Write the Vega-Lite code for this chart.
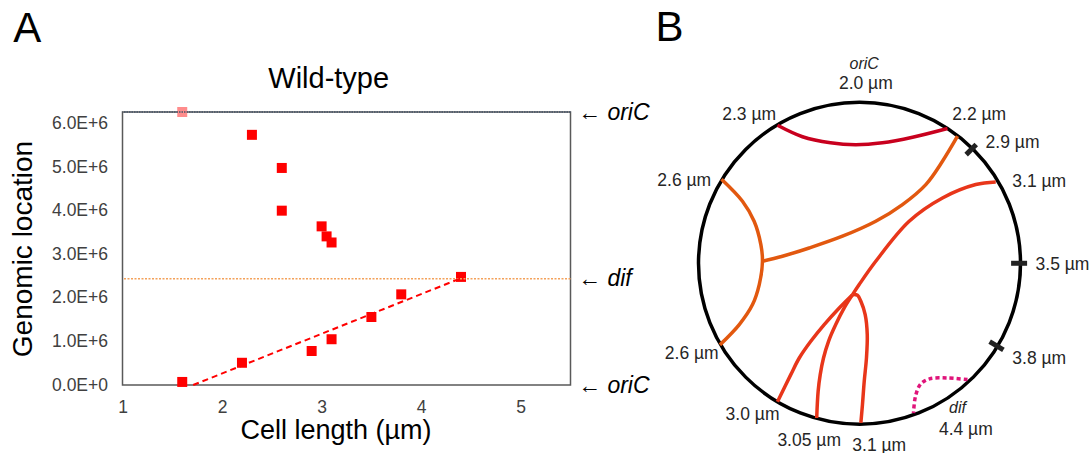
{
  "$schema": "https://vega.github.io/schema/vega-lite/v6.json",
  "background": "white",
  "padding": {"left": 8.5, "top": 6, "right": 0, "bottom": 0},
  "spacing": 5,
  "config": {"font": "Liberation Sans", "text": {"font": "Liberation Sans"}},
  "hconcat": [
    {
      "width": 448,
      "height": 273,
      "view": {"stroke": "#595959", "strokeWidth": 1.5},
      "layer": [
        {
          "data": {"values": [
            {"len": 1.6, "loc": 70000}, {"len": 2.2, "loc": 510000}, {"len": 2.3, "loc": 5740000},
            {"len": 2.6, "loc": 4980000}, {"len": 2.6, "loc": 4000000}, {"len": 2.9, "loc": 780000},
            {"len": 3.0, "loc": 3640000}, {"len": 3.05, "loc": 3410000}, {"len": 3.1, "loc": 3270000},
            {"len": 3.1, "loc": 1050000}, {"len": 3.5, "loc": 1560000}, {"len": 3.8, "loc": 2080000},
            {"len": 4.4, "loc": 2480000}
          ]},
          "mark": {"type": "point", "shape": "square", "filled": true, "size": 100, "opacity": 1, "color": "#FF0000"},
          "encoding": {
            "x": {"field": "len", "type": "quantitative", "title": "Cell length (µm)",
              "scale": {"domain": [1, 5.5], "nice": false, "zero": false},
              "axis": {"values": [1, 2, 3, 4, 5], "format": "d", "labelFlush": false, "domain": false, "ticks": false, "grid": false,
                "labelFontSize": 17.5, "labelColor": "#404040", "labelPadding": 13,
                "titleFontSize": 27, "titleFontWeight": "normal", "titleColor": "#000000", "titlePadding": 2, "titleX": 213}},
            "y": {"field": "loc", "type": "quantitative", "title": "Genomic location",
              "scale": {"domain": [0, 6264000], "nice": false, "zero": false},
              "axis": {"values": [0, 1000000, 2000000, 3000000, 4000000, 5000000, 6000000],
                "labelExpr": "replace(format(datum.value, '.1e'), 'e', 'E')",
                "domain": false, "ticks": false, "grid": false,
                "labelFontSize": 17.5, "labelColor": "#404040", "labelPadding": 15,
                "titleFontSize": 28, "titleFontWeight": "normal", "titleColor": "#000000", "titlePadding": 14}}
          }
        },
        {
          "data": {"values": [{"len": 1.6, "loc": 6264000}]},
          "mark": {"type": "point", "shape": "square", "filled": true, "size": 100, "opacity": 1, "color": "#FF8C8C"},
          "encoding": {
            "x": {"field": "len", "type": "quantitative", "scale": {"domain": [1, 5.5], "nice": false, "zero": false}},
            "y": {"field": "loc", "type": "quantitative", "scale": {"domain": [0, 6264000], "nice": false, "zero": false}, "axis": null}
          }
        },
        {
          "data": {"values": [{"site": "dif", "loc": 2440000}]},
          "mark": {"type": "rule", "strokeDash": [2, 1.5], "strokeWidth": 1.5, "color": "#F4A15A"},
          "encoding": {
            "y": {"field": "loc", "type": "quantitative", "title": null,
              "scale": {"domain": [0, 6264000], "nice": false, "zero": false},
              "axis": {"orient": "right", "values": [0, 2440000, 6264000],
                "labelExpr": "datum.value > 1000000 && datum.value < 5000000 ? '← dif' : '← oriC'",
                "domain": false, "ticks": false, "grid": false,
                "labelFontSize": 23, "labelFontStyle": "italic", "labelColor": "#000000", "labelPadding": 7}}
          }
        },
        {
          "data": {"values": [{"site": "oriC", "loc": 6264000}]},
          "mark": {"type": "rule", "strokeDash": [1.5, 1], "strokeWidth": 1.5, "color": "#44546A"},
          "encoding": {
            "y": {"field": "loc", "type": "quantitative", "scale": {"domain": [0, 6264000], "nice": false, "zero": false}, "axis": null}
          }
        },
        {
          "data": {"values": [{"len": 1.71, "loc": 0}, {"len": 4.4, "loc": 2450000}]},
          "mark": {"type": "line", "strokeDash": [6, 4], "strokeWidth": 2, "color": "#FF0000"},
          "encoding": {
            "x": {"field": "len", "type": "quantitative", "scale": {"domain": [1, 5.5], "nice": false, "zero": false}},
            "y": {"field": "loc", "type": "quantitative", "scale": {"domain": [0, 6264000], "nice": false, "zero": false}, "axis": null}
          }
        },
        {
          "data": {"values": [{"label": "A"}]},
          "mark": {"type": "text", "fontSize": 42, "align": "left", "baseline": "alphabetic", "color": "#000000"},
          "encoding": {
            "text": {"field": "label"},
            "x": {"datum": -0.098, "type": "quantitative", "scale": {"domain": [1, 5.5], "nice": false, "zero": false}},
            "y": {"datum": 7879000, "type": "quantitative", "scale": {"domain": [0, 6264000], "nice": false, "zero": false}, "axis": null}
          }
        },
        {
          "data": {"values": [{"label": "Wild-type"}]},
          "mark": {"type": "text", "fontSize": 29, "align": "center", "baseline": "alphabetic", "color": "#000000"},
          "encoding": {
            "text": {"field": "label"},
            "x": {"datum": 3.071, "type": "quantitative", "scale": {"domain": [1, 5.5], "nice": false, "zero": false}},
            "y": {"datum": 6810000, "type": "quantitative", "scale": {"domain": [0, 6264000], "nice": false, "zero": false}, "axis": null}
          }
        }
      ],
      "resolve": {"axis": {"y": "independent"}}
    },
    {
      "width": 432,
      "height": 340,
      "view": {"stroke": null},
      "encoding": {
        "x": {"field": "u", "type": "quantitative", "scale": {"domain": [-1.25, 1.45], "nice": false, "zero": false}, "axis": null},
        "y": {"field": "v", "type": "quantitative", "scale": {"domain": [-1.1795, 0.9455], "nice": false, "zero": false}, "axis": null}
      },
      "layer": [
        {
          "data": {"values": [{"u": 0.0125, "v": 0}]},
          "mark": {"type": "point", "shape": "circle", "filled": false, "size": 103684, "stroke": "#000000", "strokeWidth": 3.5, "opacity": 1}
        },
        {
          "data": {"values": [
            {"seg": "c1", "i": 0, "u": -0.5, "v": 0.8625}, {"seg": "c1", "i": 1, "u": -0.344, "v": 0.791},
            {"seg": "c1", "i": 2, "u": -0.169, "v": 0.753}, {"seg": "c1", "i": 3, "u": -0.0125, "v": 0.741},
            {"seg": "c1", "i": 4, "u": 0.156, "v": 0.753}, {"seg": "c1", "i": 5, "u": 0.344, "v": 0.7875},
            {"seg": "c1", "i": 6, "u": 0.5625, "v": 0.842},
            {"seg": "c2a", "i": 0, "u": 0.625, "v": 0.794}, {"seg": "c2a", "i": 1, "u": 0.531, "v": 0.6375},
            {"seg": "c2a", "i": 2, "u": 0.427, "v": 0.492}, {"seg": "c2a", "i": 3, "u": 0.281, "v": 0.367},
            {"seg": "c2a", "i": 4, "u": 0.114, "v": 0.2625}, {"seg": "c2a", "i": 5, "u": -0.094, "v": 0.169},
            {"seg": "c2a", "i": 6, "u": -0.302, "v": 0.0956}, {"seg": "c2a", "i": 7, "u": -0.469, "v": 0.044},
            {"seg": "c2a", "i": 8, "u": -0.594, "v": 0.0125},
            {"seg": "c2b", "i": 0, "u": -0.85, "v": 0.525}, {"seg": "c2b", "i": 1, "u": -0.719, "v": 0.3875},
            {"seg": "c2b", "i": 2, "u": -0.646, "v": 0.2625}, {"seg": "c2b", "i": 3, "u": -0.604, "v": 0.117},
            {"seg": "c2b", "i": 4, "u": -0.594, "v": 0.0125}, {"seg": "c2b", "i": 5, "u": -0.614, "v": -0.133},
            {"seg": "c2b", "i": 6, "u": -0.656, "v": -0.258}, {"seg": "c2b", "i": 7, "u": -0.739, "v": -0.383},
            {"seg": "c2b", "i": 8, "u": -0.86, "v": -0.51},
            {"seg": "c3", "i": 0, "u": 0.864, "v": 0.508}, {"seg": "c3", "i": 1, "u": 0.739, "v": 0.492},
            {"seg": "c3", "i": 2, "u": 0.531, "v": 0.408}, {"seg": "c3", "i": 3, "u": 0.323, "v": 0.2625},
            {"seg": "c3", "i": 4, "u": 0.114, "v": 0.0125},
            {"seg": "c3", "i": 5, "u": 0.0106, "v": -0.133}, {"seg": "c3", "i": 6, "u": -0.031, "v": -0.196},
            {"seg": "c4", "i": 0, "u": -0.031, "v": -0.196}, {"seg": "c4", "i": 1, "u": -0.114, "v": -0.279},
            {"seg": "c4", "i": 2, "u": -0.208, "v": -0.383}, {"seg": "c4", "i": 3, "u": -0.292, "v": -0.4875},
            {"seg": "c4", "i": 4, "u": -0.364, "v": -0.592}, {"seg": "c4", "i": 5, "u": -0.417, "v": -0.696},
            {"seg": "c4", "i": 6, "u": -0.5, "v": -0.866},
            {"seg": "c5", "i": 0, "u": -0.031, "v": -0.196}, {"seg": "c5", "i": 1, "u": -0.083, "v": -0.279},
            {"seg": "c5", "i": 2, "u": -0.136, "v": -0.383}, {"seg": "c5", "i": 3, "u": -0.181, "v": -0.4875},
            {"seg": "c5", "i": 4, "u": -0.2125, "v": -0.592}, {"seg": "c5", "i": 5, "u": -0.233, "v": -0.696},
            {"seg": "c5", "i": 6, "u": -0.246, "v": -0.8}, {"seg": "c5", "i": 7, "u": -0.255, "v": -0.967},
            {"seg": "c6", "i": 0, "u": -0.031, "v": -0.196}, {"seg": "c6", "i": 1, "u": 0.0, "v": -0.2},
            {"seg": "c6", "i": 2, "u": 0.021, "v": -0.2375}, {"seg": "c6", "i": 3, "u": 0.048, "v": -0.321},
            {"seg": "c6", "i": 4, "u": 0.061, "v": -0.446}, {"seg": "c6", "i": 5, "u": 0.056, "v": -0.592},
            {"seg": "c6", "i": 6, "u": 0.042, "v": -0.7375}, {"seg": "c6", "i": 7, "u": 0.031, "v": -0.883},
            {"seg": "c6", "i": 8, "u": 0.021, "v": -0.998}
          ]},
          "mark": {"type": "line", "strokeWidth": 3.5, "interpolate": "catmull-rom", "strokeCap": "butt"},
          "encoding": {
            "detail": {"field": "seg"},
            "order": {"field": "i", "type": "quantitative"},
            "color": {"field": "seg", "type": "nominal", "legend": null,
              "scale": {"domain": ["c1", "c2a", "c2b", "c3", "c4", "c5", "c6"],
                "range": ["#C8001E", "#E2580F", "#E2580F", "#E8361A", "#E8361A", "#E8361A", "#E8361A"]}}
          }
        },
        {
          "data": {"values": [
            {"i": 0, "u": 0.6875, "v": -0.727}, {"i": 1, "u": 0.5625, "v": -0.717}, {"i": 2, "u": 0.45, "v": -0.722},
            {"i": 3, "u": 0.394, "v": -0.756}, {"i": 4, "u": 0.3625, "v": -0.831}, {"i": 5, "u": 0.35, "v": -0.936}
          ]},
          "mark": {"type": "line", "strokeWidth": 3.5, "strokeDash": [4, 3], "color": "#E0147A", "interpolate": "catmull-rom"},
          "encoding": {"order": {"field": "i", "type": "quantitative"}}
        },
        {
          "data": {"values": [
            {"u": 0.679, "v": 0.679, "u2": 0.742, "v2": 0.742},
            {"u": 0.96, "v": 0, "u2": 1.06, "v2": 0},
            {"u": 0.826, "v": -0.49, "u2": 0.912, "v2": -0.541}
          ]},
          "mark": {"type": "rule", "strokeWidth": 5, "color": "#222222"},
          "encoding": {"x2": {"field": "u2"}, "y2": {"field": "v2"}}
        },
        {
          "data": {"values": [
            {"t": "2.0 µm", "u": 0.052, "v": 1.118}, {"t": "2.3 µm", "u": -0.677, "v": 0.929},
            {"t": "2.2 µm", "u": 0.761, "v": 0.929}, {"t": "2.9 µm", "u": 0.969, "v": 0.752},
            {"t": "2.6 µm", "u": -1.083, "v": 0.517}, {"t": "3.1 µm", "u": 1.136, "v": 0.508},
            {"t": "3.5 µm", "u": 1.281, "v": -0.008}, {"t": "2.6 µm", "u": -1.036, "v": -0.567},
            {"t": "3.8 µm", "u": 1.136, "v": -0.596}, {"t": "3.0 µm", "u": -0.656, "v": -0.95},
            {"t": "4.4 µm", "u": 0.677, "v": -1.039}, {"t": "3.05 µm", "u": -0.302, "v": -1.1125},
            {"t": "3.1 µm", "u": 0.136, "v": -1.14}
          ]},
          "mark": {"type": "text", "fontSize": 17.5, "align": "center", "baseline": "middle", "color": "#262626"},
          "encoding": {"text": {"field": "t"}}
        },
        {
          "data": {"values": [{"t": "oriC", "u": 0.042, "v": 1.245}, {"t": "dif", "u": 0.625, "v": -0.904}]},
          "mark": {"type": "text", "fontSize": 16, "fontStyle": "italic", "align": "center", "baseline": "middle", "color": "#262626"},
          "encoding": {"text": {"field": "t"}}
        },
        {
          "data": {"values": [{"t": "B", "u": -1.2625, "v": 1.3875}]},
          "mark": {"type": "text", "fontSize": 42, "align": "left", "baseline": "alphabetic", "color": "#000000"},
          "encoding": {"text": {"field": "t"}}
        }
      ]
    }
  ]
}
